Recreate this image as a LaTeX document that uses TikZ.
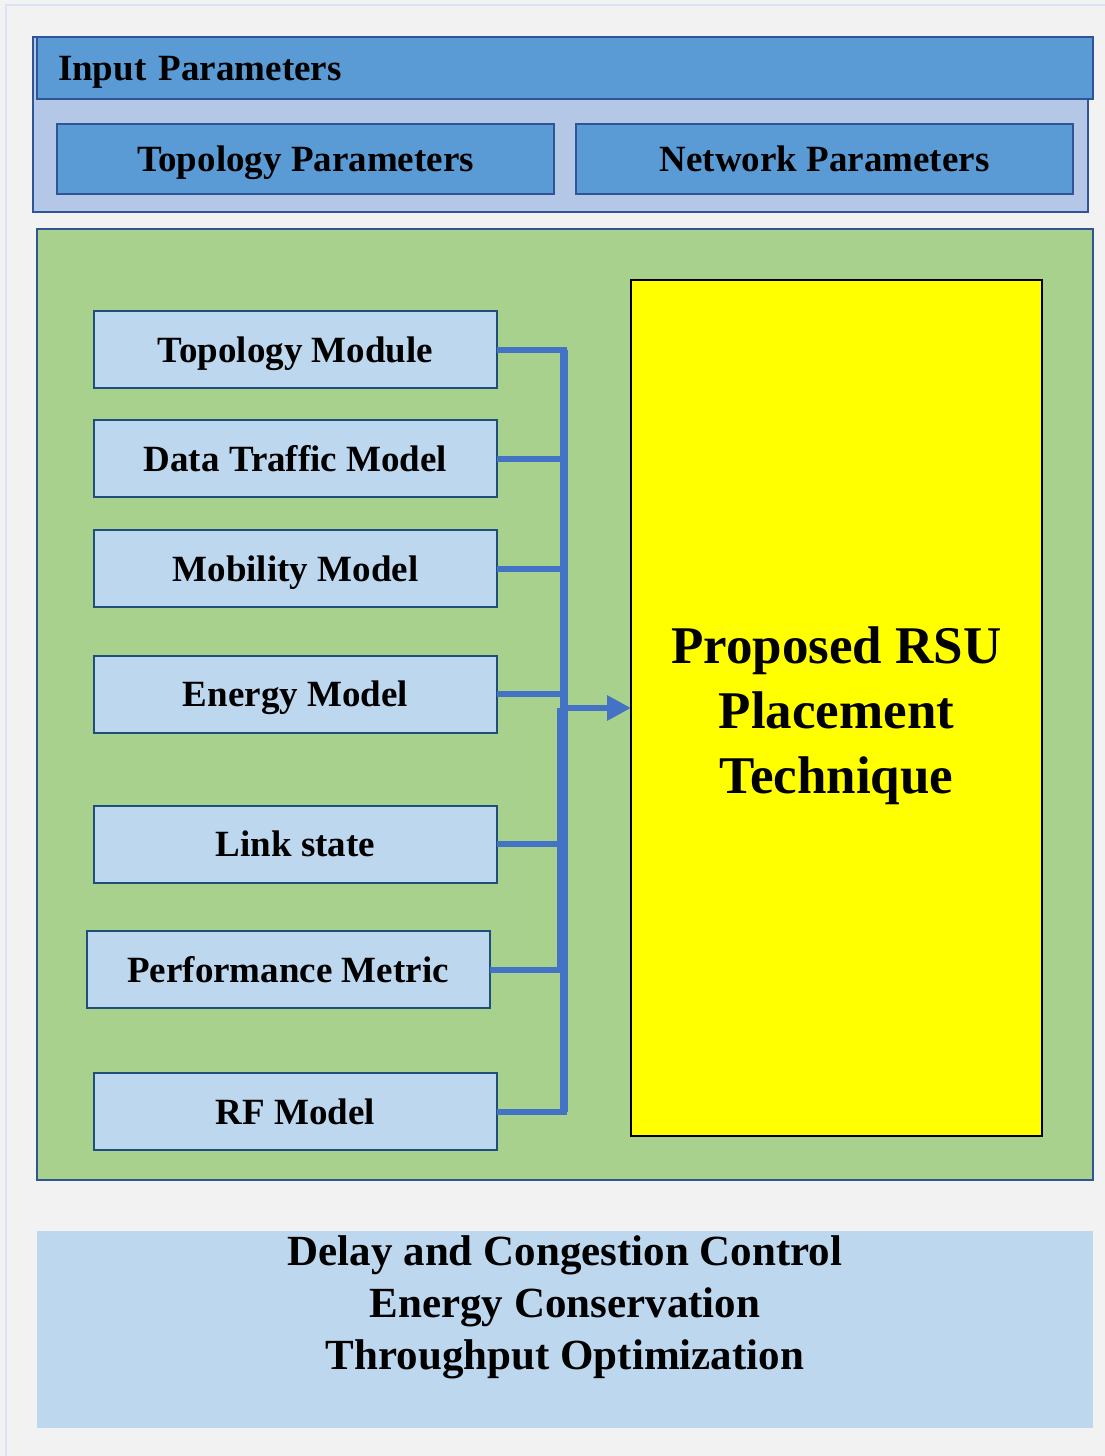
\documentclass[tikz,border=0pt]{standalone}
\usepackage{fontspec}
\setmainfont{Liberation Serif}
\usetikzlibrary{arrows.meta}

\definecolor{pagebg}{HTML}{F2F2F2}
\definecolor{pageframe}{HTML}{DAE3F3}
\definecolor{panelbg}{HTML}{B4C7E7}
\definecolor{hdrblue}{HTML}{5B9BD5}
\definecolor{hdrline}{HTML}{2F5597}
\definecolor{modfill}{HTML}{BDD7EE}
\definecolor{modline}{HTML}{1F4E79}
\definecolor{simgreen}{HTML}{A9D18E}
\definecolor{linkblue}{HTML}{4472C4}
\definecolor{rsuyellow}{HTML}{FFFF00}

\tikzset{
  hdrbox/.style={draw=hdrline, fill=hdrblue, line width=2pt, inner sep=0pt, outer sep=0pt,
    text height=25pt, text depth=0pt, font=\fontsize{37}{44}\selectfont\bfseries},
  modbox/.style={draw=modline, fill=modfill, line width=2pt, inner sep=0pt, outer sep=0pt,
    minimum width=403pt, minimum height=77pt, text height=25pt, text depth=0pt,
    font=\fontsize{37}{44}\selectfont\bfseries},
  link/.style={draw=linkblue, line width=6pt},
  busline/.style={draw=linkblue, line width=8pt},
}

\begin{document}
\begin{tikzpicture}[x=1pt, y=-1pt]
  % page
  \useasboundingbox (0,0) rectangle (1105,1456);
  \fill[pagebg] (0,0) rectangle (1105,1456);
  \draw[pageframe, line width=2pt] (6,1460) -- (6,5) -- (1110,5);

  % input parameters panel
  \draw[hdrline, fill=panelbg, line width=2pt] (33,37) rectangle (1088,212);
  \node[hdrbox, minimum height=62pt, text width=1014pt, inner xsep=21pt, align=left,
        anchor=north west] (inp) at (37,37) {Input Parameters};
  \node[hdrbox, minimum width=497pt, minimum height=70pt] (topo) at (305.5,159) {Topology Parameters};
  \node[hdrbox, minimum width=497pt, minimum height=70pt] (net) at (824.5,159) {Network Parameters};

  % simulation panel
  \draw[hdrline, fill=simgreen, line width=2pt] (37,229) rectangle (1093,1180);

  % modules
  \node[modbox] (tm)  at (295.5,349.5)  {Topology Module};
  \node[modbox] (dtm) at (295.5,458.5)  {Data Traffic Model};
  \node[modbox] (mm)  at (295.5,568.5)  {Mobility Model};
  \node[modbox] (em)  at (295.5,694)    {Energy Model};
  \node[modbox] (ls)  at (295.5,844)    {Link state};
  \node[modbox] (pm)  at (288,969.5)    {Performance Metric};
  \node[modbox] (rf)  at (295.5,1111.5) {RF Model};

  % placement technique
  \node[draw=black, fill=rsuyellow, line width=2.5pt, inner sep=0pt, outer sep=0pt,
        minimum width=411pt, minimum height=856pt] (rsu) at (836.5,708) {};
  \node[align=center, font=\fontsize{53}{65}\selectfont\bfseries] (rsutext) at (836.5,716)
        {Proposed RSU\\Placement\\Technique};

  % collecting bus
  \coordinate (j) at (564,708);
  \coordinate (jw) at (562.5,708);
  \foreach \m in {tm,dtm,mm,em,ls,pm,rf}
    \draw[link] (\m.east) -| (j);
  \draw[busline] (j |- tm.east) -- (j |- rf.east);
  \draw[link, line width=11pt] (jw) -- (jw |- pm.east);
  \draw[link, -{Triangle[length=24pt,width=24pt]}] (j) -- (rsu.west);

  % objectives
  \fill[modfill] (37,1231) rectangle (1093,1428);
  \node[align=center, font=\fontsize{43}{52}\selectfont\bfseries] (goals) at (565,1307)
    {Delay and Congestion Control\\Energy Conservation\\Throughput Optimization};
\end{tikzpicture}
\end{document}
